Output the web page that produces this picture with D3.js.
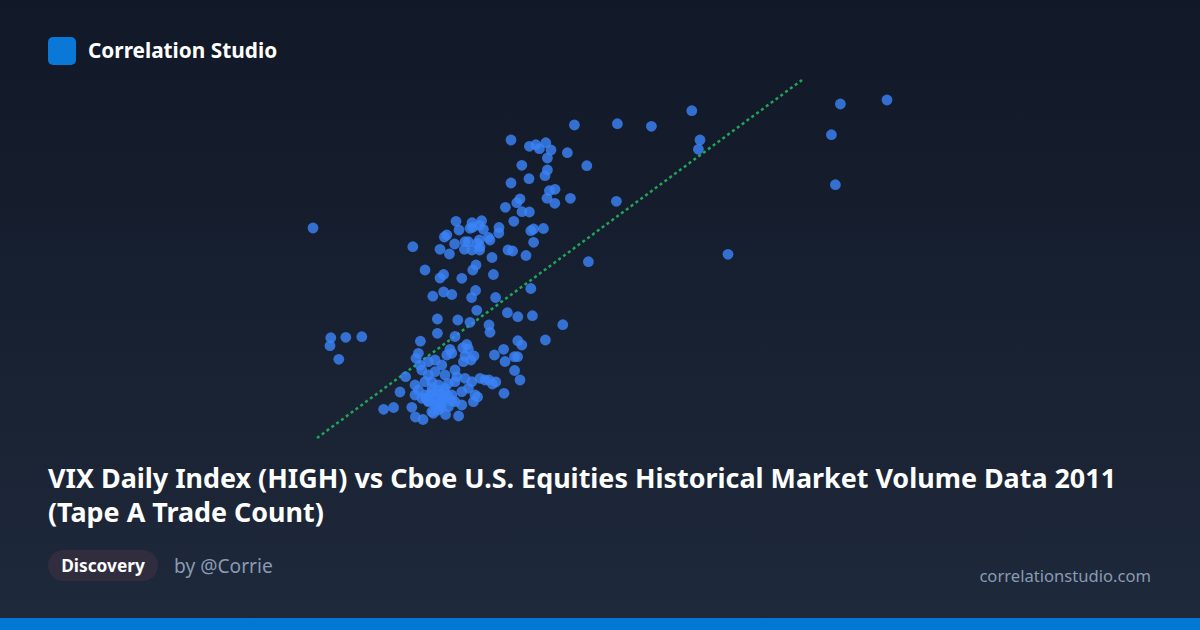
<!DOCTYPE html>
<html>
<head>
<meta charset="utf-8">
<script src="https://cdn.jsdelivr.net/npm/d3@7"></script>
<style>
  html, body { margin: 0; padding: 0; background: #111827; }
  svg { display: block; }
</style>
</head>
<body>
<svg id="chart" width="1200" height="630"></svg>
<script>
// ---- Data (x: VIX daily HIGH, y: Tape A trade count, hundred-thousands) ----
const vixHigh = [
  15.65, 20.64, 25.55, 26.47, 26.79, 26.97, 27.29, 27.55, 28.72, 28.37,
  29.34, 27.37, 26.09, 27.37, 27.25, 26.45, 25.55, 27.47, 27.75, 27.35,
  27.74, 28.52, 26.00, 25.84, 25.27, 26.10, 26.47, 25.69, 26.54, 26.68,
  27.17, 26.68, 26.30, 25.40, 25.63, 24.60, 24.95, 24.94, 22.80, 22.95,
  23.60, 24.08, 23.97, 23.50, 23.64, 24.17, 22.22, 22.34, 22.73, 23.25,
  23.42, 23.87, 23.97, 24.00, 24.42, 24.50, 23.22, 23.59, 22.00, 22.47,
  23.98,
  30.87, 32.57, 34.59, 35.00, 34.92, 30.82, 36.40, 42.02, 44.35, 41.57,
  41.77, 29.42,
  21.25, 22.00, 22.18, 23.09, 23.64, 23.80, 24.67, 21.64, 22.18, 22.59,
  23.78, 23.58, 24.78, 26.54, 23.84, 25.37, 25.89, 26.62, 28.14, 21.87,
  22.89, 23.50, 24.45, 24.50, 21.87, 22.75, 16.54, 17.29, 18.09, 16.50,
  16.94, 21.02, 25.89, 26.09, 27.27, 23.34, 23.14, 22.50, 22.59, 22.34,
  20.92, 20.80, 25.18, 24.72, 25.25, 25.72, 25.88, 23.70, 23.55, 23.17,
  25.73, 26.00, 20.28, 20.00, 19.18, 19.68, 20.59, 20.77, 21.15, 22.28,
  22.93, 25.20, 24.00, 24.45, 24.62, 24.79, 23.88, 21.67, 23.25, 23.42,
  21.42, 21.75, 22.09, 21.00, 21.09, 21.42, 21.75, 22.25, 22.75, 20.75,
  20.92, 21.25, 21.59, 21.92, 22.25, 22.59, 23.09, 21.42, 21.75, 22.09,
  22.42, 22.75, 23.09, 23.25, 23.59, 24.25, 23.42, 23.75, 23.67, 22.75,
  22.84, 22.42, 21.59, 21.25, 21.59, 21.92, 21.09, 20.75,
  21.50, 22.00, 21.75, 22.25, 21.90, 22.10, 21.60, 21.40, 22.20, 21.80,
  22.40, 21.95, 22.60, 21.30, 22.05
];
const tradeCount = [
  27.20, 25.33, 36.00, 35.37, 35.53, 35.13, 35.73, 35.00, 37.50, 34.73,
  33.43, 34.20, 33.47, 33.00, 32.43, 32.13, 31.70, 30.93, 31.07, 30.17,
  29.67, 30.17, 30.10, 29.73, 29.27, 28.83, 28.80, 27.87, 26.93, 27.10,
  27.15, 25.77, 24.45, 25.00, 24.90, 24.25, 27.25, 26.70, 27.87, 27.00,
  27.73, 27.93, 27.47, 27.17, 27.27, 27.07, 26.30, 26.50, 25.60, 25.83,
  25.83, 25.67, 26.00, 25.33, 26.27, 26.00, 25.07, 25.00, 25.07, 24.60,
  25.00,
  37.63, 37.37, 38.93, 36.00, 35.07, 29.87, 24.57, 39.60, 40.00, 36.53,
  31.53, 23.83,
  23.00, 22.20, 22.55, 22.17, 23.00, 23.50, 22.55, 20.38, 20.80, 20.55,
  20.95, 20.25, 20.25, 21.15, 18.97, 18.73, 18.33, 18.43, 17.53, 18.10,
  18.00, 17.77, 17.50, 16.77, 16.67, 16.35, 16.23, 16.27, 16.33, 15.43,
  14.07, 15.88, 15.93, 15.50, 16.00, 15.55, 15.23, 15.07, 14.67, 14.50,
  14.67, 14.17, 15.07, 14.50, 13.85, 14.33, 14.33, 14.40, 14.00, 13.83,
  12.95, 12.00, 12.33, 10.80, 9.07, 9.25, 9.27, 8.30, 8.05, 8.55,
  8.40, 10.67, 12.17, 12.00, 11.60, 11.80, 10.30, 8.67, 14.40, 15.10,
  13.83, 14.00, 13.50, 13.50, 13.00, 12.50, 12.83, 12.50, 13.00, 11.50,
  11.00, 10.50, 10.83, 11.50, 11.17, 10.50, 10.83, 9.83, 9.50, 9.67,
  9.33, 9.83, 9.50, 12.17, 11.83, 12.00, 11.17, 10.50, 9.83, 11.83,
  12.33, 11.67, 11.83, 11.83, 8.83, 9.00, 10.17, 10.50,
  10.50, 10.50, 10.20, 10.20, 11.00, 10.00, 11.20, 9.90, 10.90, 9.70,
  10.40, 9.40, 9.90, 10.20, 9.20
];
// Trend line end points (x, y)
const trendX = [15.85, 40.10];
const trendY = [6.20, 42.00];

const titleLines = [
  "VIX Daily Index (HIGH) vs Cboe U.S. Equities Historical Market Volume Data 2011",
  "(Tape A Trade Count)"
];
const brandName = "Correlation Studio";
const badgeText = "Discovery";
const authorText = "by @Corrie";
const siteText = "correlationstudio.com";

// ---- Drawing ----
const W = 1200, H = 630;
const svg = d3.select("#chart");
const FONT = "'Segoe UI', 'Noto Sans', 'Open Sans', sans-serif";

const defs = svg.append("defs");
const grad = defs.append("linearGradient").attr("id", "bg")
  .attr("x1", 0).attr("y1", 0).attr("x2", 0).attr("y2", 1);
grad.append("stop").attr("offset", "0%").attr("stop-color", "#111827");
grad.append("stop").attr("offset", "100%").attr("stop-color", "#1e293b");
svg.append("rect").attr("width", W).attr("height", H).attr("fill", "url(#bg)");

// header
svg.append("rect").attr("x", 48).attr("y", 37).attr("width", 28).attr("height", 28)
  .attr("rx", 5).attr("fill", "#0a78d6");
svg.append("text").attr("x", 88).attr("y", 58).text(brandName)
  .attr("fill", "#ffffff").attr("font-family", FONT).attr("font-weight", 700)
  .attr("font-size", 20.8);

// scales
const x = d3.scaleLinear().domain([15, 50]).range([300, 1000]);
const y = d3.scaleLinear().domain([0, 45]).range([500, 50]);

const pts = vixHigh.map((v, i) => ({ x: v, y: tradeCount[i] }));

// trend line
svg.append("line")
  .attr("x1", x(trendX[0])).attr("y1", y(trendY[0]))
  .attr("x2", x(trendX[1])).attr("y2", y(trendY[1]))
  .attr("stroke", "#22a55a").attr("stroke-width", 2.5)
  .attr("stroke-dasharray", "3,3");

svg.append("g").selectAll("circle").data(pts).join("circle")
  .attr("cx", d => x(d.x)).attr("cy", d => y(d.y)).attr("r", 5.4)
  .attr("fill", "#3b82f6").attr("fill-opacity", 0.82);

// title
const title = svg.append("text").attr("font-family", FONT).attr("font-weight", 700)
  .attr("font-size", 26.9).attr("fill", "#ffffff");
titleLines.forEach((t, i) => {
  title.append("tspan").attr("x", 48).attr("y", 488 + i * 34).text(t);
});

// badge
svg.append("rect").attr("x", 48).attr("y", 550).attr("width", 110).attr("height", 31)
  .attr("rx", 15.5).attr("fill", "#302d3f");
svg.append("text").attr("x", 103).attr("y", 572).attr("text-anchor", "middle")
  .text(badgeText).attr("fill", "#ffffff").attr("font-family", FONT)
  .attr("font-weight", 700).attr("font-size", 17.3);
svg.append("text").attr("x", 174).attr("y", 573).text(authorText)
  .attr("fill", "#8a9ab3").attr("font-family", FONT).attr("font-size", 19.2);
svg.append("text").attr("x", 1151).attr("y", 582).attr("text-anchor", "end")
  .text(siteText).attr("fill", "#8a9ab3").attr("font-family", FONT).attr("font-size", 16.6);

// bottom bar
svg.append("rect").attr("x", 0).attr("y", 618).attr("width", W).attr("height", 12)
  .attr("fill", "#0078d4");
</script>
</body>
</html>
